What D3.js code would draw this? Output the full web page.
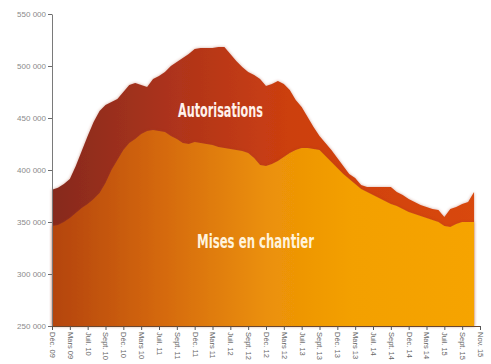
<!DOCTYPE html>
<html lang="fr">
<head>
<meta charset="utf-8">
<script src="https://cdn.jsdelivr.net/npm/d3@7"></script>
<style>
  html, body { margin: 0; padding: 0; background: #ffffff; }
  svg { display: block; }
</style>
</head>
<body>
<svg id="chart" width="491" height="364"></svg>
<script>
// Logements : autorisations et mises en chantier (cumul sur 12 mois), mensuel déc. 2009 – nov. 2015
const tickLabels = [
  "Déc. 09", "Mars 09", "Juil. 10", "Sept. 10", "Déc. 10", "Mars 10", "Juil. 11", "Sept. 11",
  "Déc. 11", "Mars 11", "Juil. 12", "Sept. 12", "Déc. 12", "Mars 12", "Juil. 13", "Sept. 13",
  "Déc. 13", "Mars 13", "Juil. 14", "Sept. 14", "Déc. 14", "Mars 14", "Juil. 15", "Sept. 15",
  "Nov. 15"
];

const yTicks = [250000, 300000, 350000, 400000, 450000, 500000, 550000];

// Autorisations (logements)
const autorisations = [
  381000, 383000, 386500, 391300, 403800, 418300, 432700, 446100, 456700, 462500,
  465400, 468300, 475000, 481700, 483600, 481700, 479800, 487500, 490400, 494200,
  500000, 503800, 507700, 511500, 516300, 517300, 517300, 517300, 518300, 518300,
  511500, 504800, 499000, 494200, 491300, 487500, 480800, 482700, 485600, 482700,
  476900, 467300, 460600, 451000, 441300, 432700, 426000, 419200, 411500, 403800,
  396100, 392300, 385600, 383700, 383700, 383700, 383700, 383700, 378800, 376000,
  372100, 369200, 366300, 364400, 362500, 361500, 354800, 362500, 364400, 367300,
  369200, 378800
];

// Mises en chantier (logements)
const misesEnChantier = [
  346200, 347100, 350000, 353800, 358700, 363500, 367300, 372100, 377900, 387500,
  400000, 409600, 419200, 426000, 429800, 434600, 437500, 438500, 437500, 436500,
  432700, 429800, 426000, 425000, 426900, 426000, 425000, 424000, 422100, 421100,
  420200, 419200, 418300, 416300, 411500, 404800, 403800, 405800, 408600, 412500,
  416300, 419200, 421100, 421100, 420200, 419200, 413500, 407700, 401900, 396100,
  391300, 386500, 381700, 378800, 376000, 373100, 370200, 367300, 365400, 362500,
  359600, 357700, 355800, 353800, 351900, 350000, 346200, 345200, 348100, 350000,
  350000, 350000
];

const svg = d3.select("#chart");
const margin = { left: 52, right: 11, top: 14, bottom: 38 };
const W = 491, H = 364;
const monthsPerTick = 3;

const x = d3.scaleLinear()
  .domain([0, (tickLabels.length - 1) * monthsPerTick])
  .range([margin.left, W - margin.right]);

const y = d3.scaleLinear()
  .domain([250000, 550000])
  .range([H - margin.bottom, margin.top]);

const defs = svg.append("defs");

function hGradient(id, stops) {
  const g = defs.append("linearGradient")
    .attr("id", id)
    .attr("gradientUnits", "userSpaceOnUse")
    .attr("x1", x.range()[0]).attr("x2", x.range()[1])
    .attr("y1", 0).attr("y2", 0);
  stops.forEach(([o, c]) => g.append("stop").attr("offset", o).attr("stop-color", c));
}

hGradient("gradAut", [[0, "#862a1e"], [0.3, "#b0341a"], [0.55, "#cc3f10"], [1, "#d9480a"]]);
hGradient("gradMec", [[0, "#b4440c"], [0.25, "#d4680a"], [0.5, "#eb9008"], [0.7, "#f3a002"], [1, "#f6a400"]]);

const shadow = defs.append("filter").attr("id", "soft")
  .attr("x", "-5%").attr("y", "-10%").attr("width", "110%").attr("height", "120%");
shadow.append("feDropShadow")
  .attr("dx", 0).attr("dy", 0).attr("stdDeviation", 1.6)
  .attr("flood-color", "#a03a20").attr("flood-opacity", 0.45);

const area = d3.area()
  .x((d, i) => x(i))
  .y0(y(250000))
  .y1(d => y(d));

svg.append("path")
  .datum(autorisations)
  .attr("d", area)
  .attr("fill", "url(#gradAut)")
  .attr("filter", "url(#soft)");

svg.append("path")
  .datum(misesEnChantier)
  .attr("d", area)
  .attr("fill", "url(#gradMec)")
  .attr("filter", "url(#soft)");

// Series labels
svg.append("text")
  .attr("x", 178).attr("y", 117)
  .attr("textLength", 85).attr("lengthAdjust", "spacingAndGlyphs")
  .style("font-family", "'Liberation Sans Narrow', 'DejaVu Sans Condensed', sans-serif")
  .style("font-weight", "bold").style("font-size", "20px")
  .attr("fill", "#fff2ec")
  .text("Autorisations");

svg.append("text")
  .attr("x", 197).attr("y", 248)
  .attr("textLength", 117).attr("lengthAdjust", "spacingAndGlyphs")
  .style("font-family", "'Liberation Sans Narrow', 'DejaVu Sans Condensed', sans-serif")
  .style("font-weight", "bold").style("font-size", "20px")
  .attr("fill", "#fff3dc")
  .text("Mises en chantier");

// Y axis
const fmt = d => d3.format(",")(d).replace(/,/g, " ");
const yAxis = svg.append("g")
  .attr("transform", `translate(${margin.left},0)`)
  .call(d3.axisLeft(y).tickValues(yTicks).tickFormat(fmt).tickSize(4).tickSizeOuter(0));
yAxis.select(".domain").attr("stroke", "#7a7a7a");
yAxis.selectAll(".tick line").attr("stroke", "#6a6a6a");
yAxis.selectAll(".tick text")
  .attr("x", -6)
  .style("font-family", "'Liberation Sans', Arial, sans-serif")
  .style("font-size", "8px")
  .attr("fill", "#8a8a8a");

// X axis
const xAxis = svg.append("g")
  .attr("transform", `translate(0,${y(250000)})`)
  .call(d3.axisBottom(x)
    .tickValues(tickLabels.map((_, i) => i * monthsPerTick))
    .tickFormat((d, i) => tickLabels[i])
    .tickSize(4).tickSizeOuter(0));
xAxis.select(".domain").attr("stroke", "#6a4630");
xAxis.selectAll(".tick line").attr("stroke", "#555");
xAxis.selectAll(".tick text")
  .attr("transform", "rotate(90)")
  .attr("x", 6).attr("y", 0).attr("dy", "0.35em")
  .attr("text-anchor", "start")
  .style("font-family", "'Liberation Sans', Arial, sans-serif")
  .style("font-size", "7.5px")
  .attr("fill", "#666");
</script>
</body>
</html>
